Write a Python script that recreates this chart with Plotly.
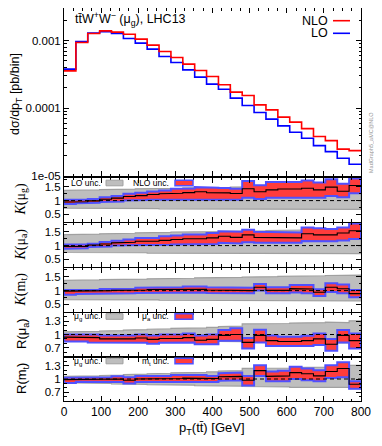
import plotly.graph_objects as go

# ---------------- data ----------------
bin_edges = [0, 32, 64, 96, 128, 160, 192, 224, 256, 288, 320, 352, 384, 416, 448,
             480, 512, 544, 576, 608, 640, 672, 704, 736, 768, 800]

nlo = [3.56e-4, 9.34e-4, 1.27e-3, 1.39e-3, 1.33e-3, 1.24e-3, 1.05e-3, 8.55e-4, 6.89e-4,
       5.61e-4, 4.48e-4, 3.60e-4, 2.94e-4, 2.22e-4, 1.73e-4, 1.54e-4, 1.12e-4, 9.46e-5,
       7.39e-5, 6.24e-5, 5.00e-5, 3.82e-5, 3.33e-5, 2.49e-5, 2.37e-5]
lo = [3.78e-4, 9.66e-4, 1.29e-3, 1.35e-3, 1.27e-3, 1.07e-3, 9.16e-4, 7.46e-4, 5.81e-4,
      4.73e-4, 3.69e-4, 2.88e-4, 2.27e-4, 1.91e-4, 1.41e-4, 1.10e-4, 8.65e-5, 6.90e-5,
      5.50e-5, 4.43e-5, 3.61e-5, 2.81e-5, 2.29e-5, 1.83e-5, 1.49e-5]

# K(mu_g)
kg_gray_hi = [1.37, 1.38, 1.39, 1.40, 1.41, 1.42, 1.43, 1.43, 1.44, 1.45, 1.46, 1.46, 1.47,
              1.48, 1.49, 1.49, 1.50, 1.51, 1.51, 1.52, 1.53, 1.53, 1.54, 1.55, 1.55]
kg_gray_lo = [0.73, 0.73, 0.72, 0.72, 0.72, 0.71, 0.71, 0.71, 0.70, 0.70, 0.70, 0.70, 0.70,
              0.69, 0.69, 0.69, 0.69, 0.69, 0.68, 0.68, 0.68, 0.68, 0.68, 0.68, 0.68]
kg_hi = [1.03, 1.03, 1.06, 1.12, 1.17, 1.25, 1.29, 1.33, 1.37, 1.43, 1.44, 1.49, 1.47, 1.46,
         1.43, 1.71, 1.56, 1.68, 1.68, 1.68, 1.73, 1.66, 1.78, 1.61, 1.80]
kg_lo = [0.88, 0.90, 0.92, 0.95, 0.97, 1.00, 1.02, 1.03, 1.04, 1.04, 1.05, 1.05, 1.05, 1.05,
         1.03, 1.10, 1.06, 1.10, 1.12, 1.12, 1.12, 1.10, 1.17, 1.12, 1.27]
kg_c = [0.95, 0.96, 0.99, 1.05, 1.09, 1.15, 1.18, 1.22, 1.25, 1.27, 1.29, 1.32, 1.29, 1.28,
        1.26, 1.43, 1.32, 1.39, 1.42, 1.42, 1.45, 1.39, 1.49, 1.34, 1.55]

# K(mu_a)
ka_gray_hi = [1.40, 1.41, 1.42, 1.43, 1.44, 1.45, 1.46, 1.47, 1.48, 1.49, 1.50, 1.50, 1.51,
              1.52, 1.53, 1.53, 1.54, 1.55, 1.55, 1.56, 1.57, 1.57, 1.58, 1.58, 1.59]
ka_gray_lo = [0.75, 0.75, 0.75, 0.74, 0.74, 0.74, 0.74, 0.73, 0.73, 0.73, 0.73, 0.73, 0.73,
              0.72, 0.72, 0.72, 0.72, 0.72, 0.72, 0.72, 0.71, 0.71, 0.71, 0.71, 0.71]
ka_hi = [1.04, 1.04, 1.07, 1.13, 1.18, 1.22, 1.28, 1.28, 1.34, 1.37, 1.40, 1.40, 1.46, 1.52,
         1.50, 1.58, 1.50, 1.48, 1.48, 1.48, 1.66, 1.63, 1.60, 1.66, 1.80]
ka_lo = [0.89, 0.90, 0.95, 0.97, 1.00, 1.01, 1.02, 1.02, 1.03, 1.04, 1.05, 1.05, 1.06, 1.10,
         1.08, 1.12, 1.10, 1.10, 1.09, 1.10, 1.17, 1.16, 1.16, 1.19, 1.24]
ka_c = [0.97, 0.97, 1.02, 1.06, 1.10, 1.12, 1.16, 1.16, 1.19, 1.22, 1.25, 1.25, 1.28, 1.34,
        1.30, 1.39, 1.30, 1.28, 1.28, 1.28, 1.43, 1.39, 1.39, 1.46, 1.54]

# K(m_t)
km_gray_hi = [1.37, 1.38, 1.39, 1.40, 1.40, 1.41, 1.42, 1.43, 1.44, 1.45, 1.45, 1.46, 1.47,
              1.48, 1.48, 1.49, 1.50, 1.51, 1.52, 1.52, 1.53, 1.54, 1.55, 1.55, 1.56]
km_gray_lo = [0.67, 0.67, 0.67, 0.66, 0.66, 0.66, 0.66, 0.66, 0.65, 0.65, 0.65, 0.65, 0.65,
              0.65, 0.64, 0.64, 0.64, 0.64, 0.64, 0.64, 0.63, 0.63, 0.63, 0.63, 0.63]
km_hi = [1.02, 1.02, 1.02, 1.06, 1.07, 1.07, 1.10, 1.12, 1.12, 1.12, 1.15, 1.15, 1.12, 1.10,
         1.10, 1.10, 1.24, 1.12, 1.12, 1.20, 1.20, 1.05, 1.27, 1.22, 1.02]
km_lo = [0.85, 0.88, 0.88, 0.89, 0.90, 0.90, 0.91, 0.91, 0.91, 0.91, 0.93, 0.93, 0.91, 0.90,
         0.90, 0.90, 1.00, 0.90, 0.90, 0.93, 0.90, 0.80, 0.95, 0.90, 0.76]
km_c = [0.98, 0.99, 0.99, 1.00, 1.01, 1.01, 1.02, 1.04, 1.04, 1.04, 1.05, 1.05, 1.02, 1.01,
        1.01, 1.00, 1.12, 1.01, 1.01, 1.07, 1.06, 0.94, 1.12, 1.07, 0.89]

# R panels: mu_g uncertainty band (gray)
rg_hi = [1.06, 1.06, 1.07, 1.08, 1.09, 1.10, 1.11, 1.12, 1.13, 1.14, 1.145, 1.15, 1.16,
         1.18, 1.19, 1.24, 1.25, 1.24, 1.25, 1.26, 1.26, 1.27, 1.28, 1.27, 1.31]
rg_lo = [0.92, 0.91, 0.91, 0.90, 0.89, 0.88, 0.88, 0.87, 0.87, 0.86, 0.86, 0.85, 0.85,
         0.84, 0.84, 0.83, 0.83, 0.82, 0.82, 0.81, 0.81, 0.80, 0.80, 0.81, 0.78]

# R(mu_a)
ra_hi = [1.00, 1.00, 1.00, 0.98, 0.99, 0.98, 1.00, 0.98, 1.00, 1.00, 1.02, 0.98, 1.00, 1.10,
         1.14, 0.92, 1.11, 0.98, 0.95, 0.95, 0.97, 1.02, 0.90, 1.10, 1.02]
ra_lo = [0.84, 0.84, 0.82, 0.81, 0.81, 0.81, 0.81, 0.79, 0.81, 0.81, 0.82, 0.78, 0.78, 0.86,
         0.86, 0.68, 0.82, 0.74, 0.74, 0.74, 0.74, 0.76, 0.63, 0.82, 0.68]
ra_c = [0.94, 0.94, 0.93, 0.90, 0.91, 0.90, 0.92, 0.89, 0.91, 0.91, 0.93, 0.87, 0.89, 0.98,
        1.00, 0.82, 0.98, 0.86, 0.84, 0.84, 0.86, 0.90, 0.78, 0.98, 0.86]

# R(m_t)
rm_hi = [1.03, 1.04, 1.04, 1.04, 1.06, 1.04, 1.07, 1.07, 1.07, 1.09, 1.10, 1.09, 1.07, 1.13,
         1.145, 1.07, 1.31, 1.17, 1.19, 1.28, 1.24, 1.20, 1.31, 1.38, 0.95]
rm_lo = [0.91, 0.94, 0.935, 0.935, 0.93, 0.90, 0.93, 0.93, 0.93, 0.93, 0.94, 0.93, 0.93, 0.96,
         0.97, 0.855, 1.07, 0.95, 0.95, 1.00, 0.97, 0.95, 1.02, 1.04, 0.78]
rm_c = [0.985, 1.00, 0.99, 0.99, 1.00, 0.97, 1.00, 1.00, 1.00, 1.01, 1.02, 1.01, 1.01, 1.05,
        1.06, 0.97, 1.19, 1.06, 1.07, 1.145, 1.12, 1.07, 1.17, 1.24, 0.88]

x_tick_labels = ["0", "100", "200", "300", "400", "500", "600", "700", "800"]

# ---------------- geometry ----------------
# the page body has an 8px margin, so the figure is drawn 8px right and down
OFF = 8
W, H = 382 - OFF, 446 - OFF
ML, MR, MT, MB = 64 - OFF, 21, 8 - OFF, 45
PW, PH = W - ML - MR, H - MT - MB

def py(p):  # window pixel y -> paper
    return (H - MB - (p - OFF)) / PH

def px(p):  # window pixel x -> paper
    return (p - OFF - ML) / PW

panels = [(8, 176), (177.5, 221.5), (222.5, 266.5), (267.5, 311.5), (312.5, 356.5), (357, 401)]

RED = "rgb(255,0,0)"
BLUE = "rgb(0,0,255)"
BANDRED = "rgb(255,60,60)"
BANDBLUE = "rgb(80,80,255)"
GRAY = "rgb(190,190,190)"
GRAYLINE = "rgb(160,160,160)"
FONT = "Liberation Sans, Arial, sans-serif"


def step_xy(vals):
    xs, ys = [], []
    for k, v in enumerate(vals):
        xs += [bin_edges[k], bin_edges[k + 1]]
        ys += [v, v]
    return xs, ys


def band_xy(hi, lo):
    xh, yh = step_xy(hi)
    xl, yl = step_xy(lo)
    return xh + xl[::-1] + [xh[0]], yh + yl[::-1] + [yh[0]]


fig = go.Figure()


def ax(i):
    return ("x" if i == 1 else f"x{i}"), ("y" if i == 1 else f"y{i}")


# main panel
for vals, col in ((lo, BLUE), (nlo, RED)):
    xs, ys = step_xy(vals)
    fig.add_trace(go.Scatter(x=xs, y=ys, mode="lines", line=dict(color=col, width=1.6),
                             xaxis="x", yaxis="y", hoverinfo="skip"))

ratio_sets = [
    (kg_gray_hi, kg_gray_lo, kg_hi, kg_lo, kg_c),
    (ka_gray_hi, ka_gray_lo, ka_hi, ka_lo, ka_c),
    (km_gray_hi, km_gray_lo, km_hi, km_lo, km_c),
    (rg_hi, rg_lo, ra_hi, ra_lo, ra_c),
    (rg_hi, rg_lo, rm_hi, rm_lo, rm_c),
]

for i, (ghi, glo, rhi, rlo, cen) in enumerate(ratio_sets, start=2):
    xa, ya = ax(i)
    bx, by = band_xy(ghi, glo)
    fig.add_trace(go.Scatter(x=bx, y=by, mode="lines", fill="toself", fillcolor=GRAY,
                             line=dict(color=GRAYLINE, width=1.2), xaxis=xa, yaxis=ya,
                             hoverinfo="skip"))
    bx, by = band_xy(rhi, rlo)
    fig.add_trace(go.Scatter(x=bx, y=by, mode="lines", fill="toself", fillcolor=BANDRED,
                             line=dict(color=BANDBLUE, width=2), xaxis=xa, yaxis=ya,
                             hoverinfo="skip"))
    fig.add_trace(go.Scatter(x=[0, 800], y=[1, 1], mode="lines",
                             line=dict(color="black", width=1, dash="4px,3px"),
                             xaxis=xa, yaxis=ya, hoverinfo="skip"))
    xs, ys = step_xy(cen)
    fig.add_trace(go.Scatter(x=xs, y=ys, mode="lines", line=dict(color="black", width=1.1),
                             xaxis=xa, yaxis=ya, hoverinfo="skip"))

layout = dict(width=W, height=H, margin=dict(l=ML, r=MR, t=MT, b=MB, pad=0),
              plot_bgcolor="white", paper_bgcolor="white", showlegend=False,
              font=dict(family=FONT, size=11, color="black"))

for i, (top, bot) in enumerate(panels, start=1):
    xa, ya = ax(i)
    xkey = "xaxis" if i == 1 else f"xaxis{i}"
    ykey = "yaxis" if i == 1 else f"yaxis{i}"
    layout[xkey] = dict(domain=[0, 1], anchor=ya, range=[0, 800], showline=True,
                        linecolor="black", linewidth=1, mirror="ticks", ticks="inside",
                        ticklen=5, tickcolor="black", showgrid=False, zeroline=False,
                        tickmode="array", tickvals=[0, 100, 200, 300, 400, 500, 600, 700, 800],
                        ticktext=x_tick_labels, showticklabels=(i == 6),
                        tickfont=dict(size=12),
                        minor=dict(ticks="inside", ticklen=2.5, tickcolor="black",
                                   tickmode="linear", tick0=0, dtick=25))
    if i != 1:
        layout[xkey]["matches"] = "x"
    ydom = [py(bot), py(top)]
    if i == 1:
        layout[ykey] = dict(domain=ydom, anchor=xa, type="log", range=[-5, -2.52],
                            showline=True, linecolor="black", linewidth=1, mirror="ticks",
                            ticks="inside", ticklen=5, tickcolor="black", showgrid=False,
                            zeroline=False, tickmode="array", tickvals=[1e-5, 1e-4, 1e-3],
                            ticktext=["1e-05", "0.0001", "0.001"], tickfont=dict(size=11.5),
                            minor=dict(ticks="inside", ticklen=2.5, tickcolor="black",
                                       tickmode="array",
                                       tickvals=[m * 10.0 ** e for e in (-5, -4, -3)
                                                 for m in range(2, 10)]))
    elif i <= 4:
        layout[ykey] = dict(domain=ydom, anchor=xa, range=[0.24, 1.84], showline=True,
                            linecolor="black", linewidth=1, mirror="ticks", ticks="inside",
                            ticklen=5, tickcolor="black", showgrid=False, zeroline=False,
                            tickmode="array", tickvals=[0.5, 1, 1.5], ticktext=["0.5", "1", "1.5"],
                            tickfont=dict(size=11.5),
                            minor=dict(ticks="inside", ticklen=2.5, tickcolor="black",
                                       tickmode="array", tickvals=[0.25, 0.75, 1.25, 1.75]))
    else:
        layout[ykey] = dict(domain=ydom, anchor=xa, range=[0.5, 1.5], showline=True,
                            linecolor="black", linewidth=1, mirror="ticks", ticks="inside",
                            ticklen=5, tickcolor="black", showgrid=False, zeroline=False,
                            tickmode="array", tickvals=[0.7, 1, 1.3], ticktext=["0.7", "1", "1.3"],
                            tickfont=dict(size=11.5),
                            minor=dict(ticks="inside", ticklen=2.5, tickcolor="black",
                                       tickmode="array", tickvals=[0.6, 0.8, 0.9, 1.1, 1.2, 1.4]))

fig.update_layout(**layout)

ann = []
shapes = []

def text(x, y, s, size, xanchor="left", angle=0, color="black", family=FONT):
    ann.append(dict(x=x, y=y, xref="paper", yref="paper", text=s, showarrow=False,
                    xanchor=xanchor, yanchor="middle", textangle=angle,
                    font=dict(size=size, color=color, family=family)))

# main panel texts
text(px(73), py(19.5), "tt̄W<sup>+</sup>W<sup>−</sup> (μ<sub>g</sub>), LHC13", 12.5)
text(px(330), py(20.7), "NLO", 12.5, xanchor="right")
text(px(330), py(33.3), "LO", 12.5, xanchor="right")
shapes.append(dict(type="line", xref="paper", yref="paper", x0=px(333), x1=px(350),
                   y0=py(20.7), y1=py(20.7), line=dict(color=RED, width=1.6)))
shapes.append(dict(type="line", xref="paper", yref="paper", x0=px(333), x1=px(350),
                   y0=py(33.3), y1=py(33.3), line=dict(color=BLUE, width=1.6)))
text(px(371), py(143), "MadGraph5_aMC@NLO", 5.5, xanchor="center", angle=-90,
     color="rgb(150,150,150)")

# axis titles
text(px(16), py(94), "dσ/dp<sub>T</sub> [pb/bin]", 12.5, xanchor="center", angle=-90)
SERIF = "Liberation Serif, Times New Roman, serif"
text(px(21), py(199.5), "<i>K</i>(μ<sub>g</sub>)", 14, xanchor="center", angle=-90, family=SERIF)
text(px(21), py(244.5), "<i>K</i>(μ<sub>a</sub>)", 14, xanchor="center", angle=-90, family=SERIF)
text(px(21), py(289.5), "<i>K</i>(m<sub>t</sub>)", 14, xanchor="center", angle=-90, family=SERIF)
text(px(22), py(334), "R(μ<sub>a</sub>)", 13, xanchor="center", angle=-90)
text(px(22), py(379), "R(m<sub>t</sub>)", 13, xanchor="center", angle=-90)
text(px(212), py(428), "p<sub>T</sub>(tt̄) [GeV]", 13, xanchor="center")

# panel legends
def panel_legend(ycen, lab1, lab2):
    text(px(103), py(ycen), lab1, 8.5, xanchor="right")
    text(px(171), py(ycen), lab2, 8.5, xanchor="right")
    shapes.append(dict(type="rect", xref="paper", yref="paper", x0=px(106), x1=px(123),
                       y0=py(ycen + 2.8), y1=py(ycen - 2.8), fillcolor=GRAY,
                       line=dict(color=GRAYLINE, width=1)))
    shapes.append(dict(type="rect", xref="paper", yref="paper", x0=px(175), x1=px(193),
                       y0=py(ycen + 2.8), y1=py(ycen - 2.8), fillcolor=BANDRED,
                       line=dict(color=BANDBLUE, width=1.5)))

panel_legend(183, "LO unc.", "NLO unc.")
panel_legend(316.5, "μ<sub>g</sub> unc.", "μ<sub>a</sub> unc.")
panel_legend(361, "μ<sub>g</sub> unc.", "m<sub>t</sub> unc.")

fig.update_layout(annotations=ann, shapes=shapes)
fig.write_html("out.html")
